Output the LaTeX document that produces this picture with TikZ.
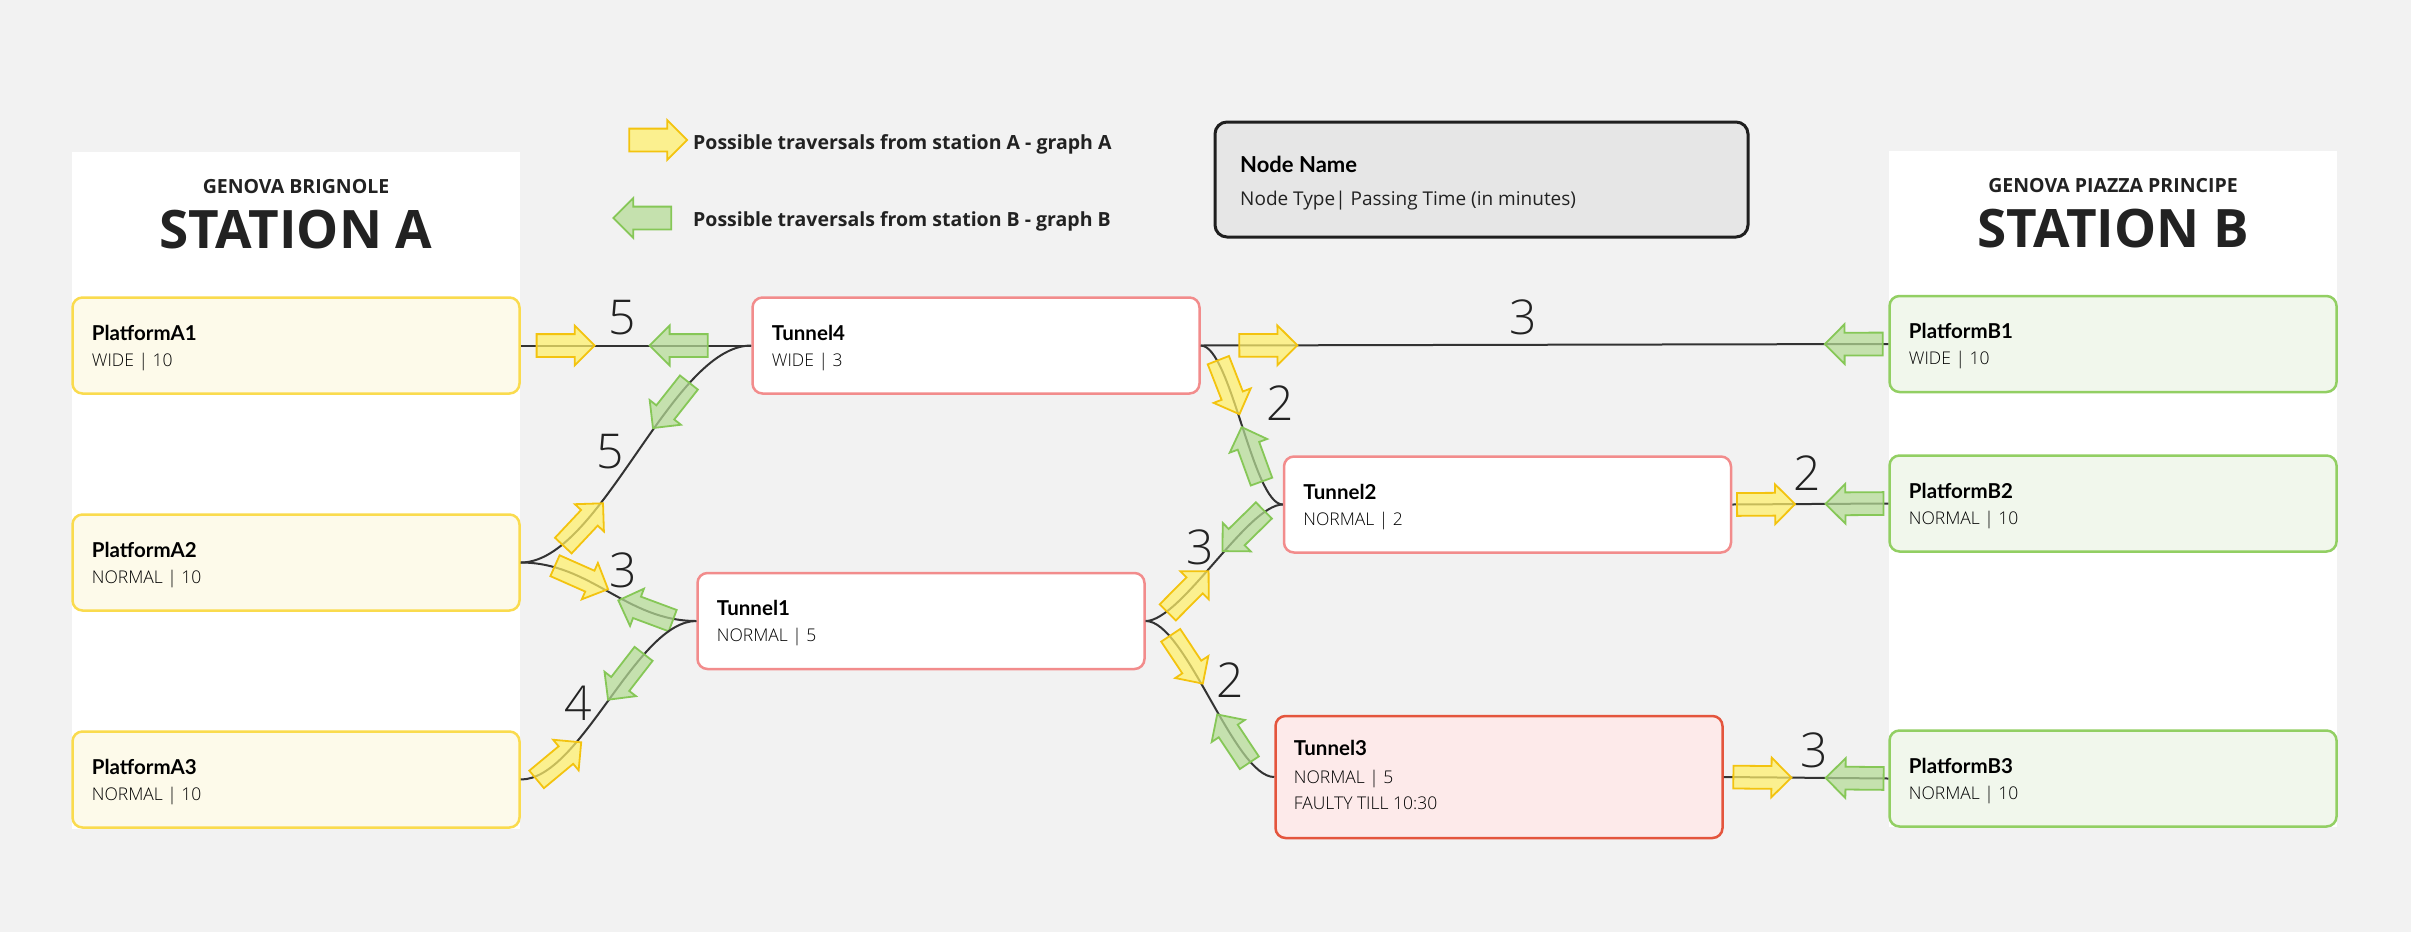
\documentclass[tikz,border=0pt]{standalone}
\usepackage{fontspec}
\setmainfont{Open Sans}
\newfontfamily\namefont{Lato}
\newfontfamily\lightfont{Open Sans Light}
\usetikzlibrary{shapes.arrows}
\definecolor{bg}{HTML}{F2F2F2}
\definecolor{txt}{HTML}{222222}
\definecolor{afill}{HTML}{FDFAEA}
\definecolor{aline}{HTML}{FADB4E}
\definecolor{bfill}{HTML}{F1F7EC}
\definecolor{bline}{HTML}{92CF63}
\definecolor{tline}{HTML}{F28C8C}
\definecolor{tffill}{HTML}{FDEAEA}
\definecolor{tfline}{HTML}{E4553D}
\definecolor{lgfill}{HTML}{E6E6E6}
\definecolor{lgline}{HTML}{1F1F1F}
\definecolor{yfill}{HTML}{FFF06A}
\definecolor{yline}{HTML}{F3C30F}
\definecolor{gfill}{HTML}{B5DB95}
\definecolor{gline}{HTML}{86C757}
\definecolor{edgec}{HTML}{333333}
\begin{document}
\begin{tikzpicture}[x=1pt,y=-1pt,
  panel/.style={rectangle, fill=white, inner sep=0pt, minimum width=448pt},
  box/.style={rectangle, rounded corners=10pt, line width=2.5pt, minimum width=447pt, minimum height=96pt, inner sep=0pt},
  abox/.style={box, fill=afill, draw=aline},
  bbox/.style={box, fill=bfill, draw=bline},
  tbox/.style={box, fill=white, draw=tline},
  fbox/.style={box, fill=tffill, draw=tfline, minimum height=122pt},
  nm/.style={anchor=base west, inner sep=0pt, text=black, font=\namefont\bfseries\fontsize{20.5}{24}\selectfont},
  tp/.style={anchor=base west, inner sep=0pt, text=black, font=\lightfont\fontsize{17.5}{21}\selectfont},
  sub/.style={anchor=base, inner sep=0pt, text=txt, font=\bfseries\fontsize{19.5}{22}\selectfont},
  ttl/.style={anchor=base, inner sep=0pt, text=txt, font=\bfseries\fontsize{53}{60}\selectfont},
  lg/.style={anchor=base west, inner sep=0pt, text=txt, font=\bfseries\fontsize{19.5}{22}\selectfont},
  lab/.style={inner sep=0pt, text=txt, font=\lightfont\fontsize{48}{50}\selectfont},
  edge/.style={draw=edgec, line width=2pt},
  arr/.style={single arrow, minimum height=58pt, single arrow head extend=8.5pt, inner xsep=0pt, inner ysep=10.5pt, line width=1.8pt, fill opacity=0.72, sloped, allow upside down},
  ya/.style={arr, fill=yfill, draw=yline},
  ga/.style={arr, fill=gfill, draw=gline, shape border rotate=180}
]
\fill[bg] (0,0) rectangle (2411,932);
\useasboundingbox (0,0) rectangle (2411,932);

% station panels
\node[panel, minimum height=677pt] (PA) at (296,490.5) {};
\node[panel, minimum height=676pt] (PB) at (2113,489) {};
\node[sub] (PAs) at (296,193) {GENOVA BRIGNOLE};
\node[ttl] (PAt) at (296,248) {STATION A};
\node[sub] (PBs) at (2113,192) {GENOVA PIAZZA PRINCIPE};
\node[ttl] (PBt) at (2113,247) {STATION B};

% legend
\node[arr, fill=yfill, draw=yline, sloped=false] (LY) at (652.5,140) {};
\node[lg] (LYt) at (693,149) {Possible traversals from station A - graph A};
\node[arr, fill=gfill, draw=gline, shape border rotate=180, sloped=false] (LG) at (648,218) {};
\node[lg] (LGt) at (693,226) {Possible traversals from station B - graph B};
\node[box, fill=lgfill, draw=lgline, minimum width=533pt, minimum height=115pt, line width=3pt, rounded corners=12pt] (LN) at (1481.5,179.5) {};
\node[nm, font=\namefont\bfseries\fontsize{22}{24}\selectfont] (LNa) at (1240,172) {Node Name};
\node[tp, text=txt, font=\fontsize{19}{22}\selectfont] (LNb) at (1240,205) {Node Type| Passing Time (in minutes)};

% platforms A
\node[abox] (A1) at (296,345.5) {};
\node[abox] (A2) at (296,562.5) {};
\node[abox] (A3) at (296,779.5) {};
% platforms B
\node[bbox] (B1) at (2113,344) {};
\node[bbox] (B2) at (2113,503.5) {};
\node[bbox] (B3) at (2113,778.5) {};
% tunnels
\node[tbox] (T4) at (976,345.5) {};
\node[tbox] (T2) at (1507.5,504.5) {};
\node[tbox] (T1) at (921,621) {};
\node[fbox] (T3) at (1499,777) {};

% node texts
\foreach \n/\a/\b in {A1/PlatformA1/WIDE | 10, A2/PlatformA2/NORMAL | 10, A3/PlatformA3/NORMAL | 10,
  B1/PlatformB1/WIDE | 10, B2/PlatformB2/NORMAL | 10, B3/PlatformB3/NORMAL | 10,
  T4/Tunnel4/WIDE | 3, T2/Tunnel2/NORMAL | 2, T1/Tunnel1/NORMAL | 5}{
  \node[nm] (\n a) at ([xshift=20.5pt,yshift=-44pt]\n.north west) {\a};
  \node[tp] (\n b) at ([xshift=20.5pt,yshift=-70pt]\n.north west) {\b};
}
\node[nm] (T3a) at ([xshift=19.5pt,yshift=-41pt]T3.north west) {Tunnel3};
\node[tp] (T3b) at ([xshift=19.5pt,yshift=-69pt]T3.north west) {NORMAL | 5};
\node[tp] (T3c) at ([xshift=19.5pt,yshift=-95pt]T3.north west) {FAULTY TILL 10:30};

% connectors
\draw[edge] (A1.east) -- (T4.west) node[ya,pos=0.17] (y1) {} node[ga,pos=0.71] (g1) {};
\draw[edge] (A2.east) .. controls +(80,0) and +(-80,0) .. (T4.west) node[ya,pos=0.25] (y2) {} node[ga,pos=0.67] (g2) {};
\draw[edge] (A2.east) .. controls +(70,0) and +(-70,0) .. (T1.west) node[ya,pos=0.3] (y3) {} node[ga,pos=0.76] (g3) {};
\draw[edge] (A3.east) .. controls +(60,0) and +(-60,0) .. (T1.west) node[ya,pos=0.19] (y4) {} node[ga,pos=0.62] (g4) {};
\draw[edge] (T4.east) -- (B1.west) node[ya,pos=0.09] (y5) {} node[ga,pos=0.958] (g5) {};
\draw[edge] (T4.east) .. controls +(30,0) and +(-30,0) .. (T2.west) node[ya,pos=0.31] (y6) {} node[ga,pos=0.65] (g8) {};
\draw[edge] (T1.east) .. controls +(35,0) and +(-35,0) .. (T2.west) node[ya,pos=0.3] (y8) {} node[ga,pos=0.72] (g9) {};
\draw[edge] (T1.east) .. controls +(40,0) and +(-40,0) .. (T3.west) node[ya,pos=0.3] (y9) {} node[ga,pos=0.7] (g10) {};
\draw[edge] (T2.east) -- (B2.west) node[ya,pos=0.18] (y7) {} node[ga,pos=0.82] (g6) {};
\draw[edge] (T3.east) -- (B3.west) node[ya,pos=0.2] (y10) {} node[ga,pos=0.83] (g7) {};

% edge labels
\node[lab] (L1) at (622,318) {5};
\node[lab] (L2) at (610,452) {5};
\node[lab] (L3) at (623,570) {3};
\node[lab] (L4) at (578,703) {4};
\node[lab] (L5) at (1523,317) {3};
\node[lab] (L6) at (1280,403) {2};
\node[lab] (L7) at (1200,547) {3};
\node[lab] (L8) at (1807,473) {2};
\node[lab] (L9) at (1230,680) {2};
\node[lab] (L10) at (1814,750) {3};
\end{tikzpicture}
\end{document}
